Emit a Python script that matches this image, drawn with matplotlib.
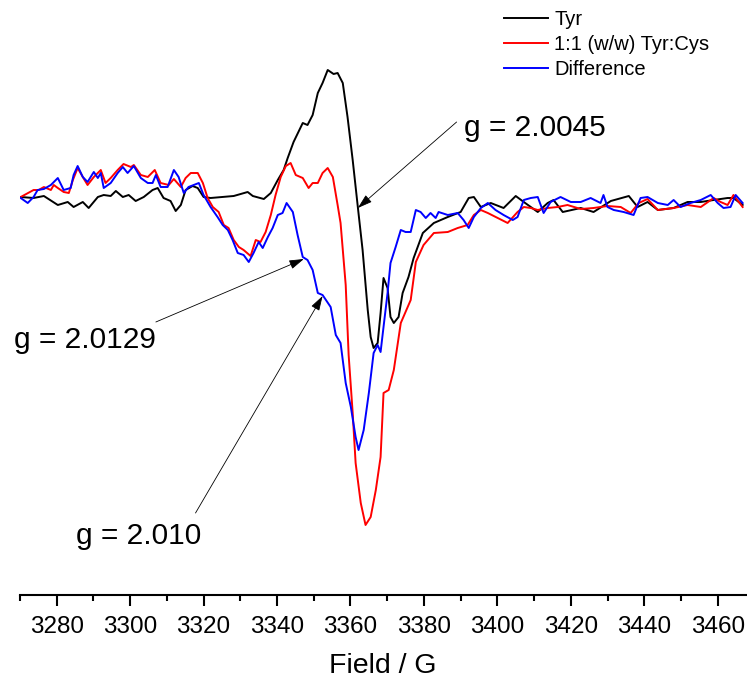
#!/usr/bin/env python3
"""EPR spectra of Tyr, 1:1 (w/w) Tyr:Cys and their difference."""
import matplotlib
matplotlib.use("Agg")
import matplotlib.pyplot as plt

plt.rcParams["font.family"] = ["Liberation Sans", "DejaVu Sans"]

# Tyr (field in G, intensity in arbitrary units)
tyr_field = [3270.2, 3273.7, 3276.5, 3280.3, 3283.0, 3284.6, 3287.1, 3288.7, 3291.2, 3292.8,
             3294.7, 3296.1, 3298.0, 3299.6, 3301.5, 3303.7, 3306.1, 3307.5, 3309.1, 3311.0,
             3312.4, 3313.8, 3315.1, 3317.0, 3318.4, 3320.0, 3321.9, 3328.2, 3332.0, 3333.4,
             3336.4, 3338.3, 3340.2, 3341.8, 3342.9, 3344.5, 3347.0, 3348.3, 3349.7, 3351.1,
             3352.4, 3353.8, 3354.6, 3355.4, 3356.5, 3357.9, 3359.2, 3360.6, 3362.0, 3363.3,
             3364.7, 3365.5, 3366.3, 3367.4, 3368.2, 3369.0, 3370.1, 3370.9, 3371.8, 3373.1,
             3374.2, 3375.8, 3377.2, 3379.7, 3382.7, 3386.5, 3390.0, 3392.2, 3393.6, 3395.5,
             3398.2, 3401.7, 3405.0, 3407.2, 3411.0, 3413.7, 3415.3, 3417.8, 3422.7, 3426.2,
             3430.9, 3435.8, 3438.2, 3440.9, 3443.7, 3448.0, 3451.8, 3455.4, 3458.9, 3462.7,
             3464.3, 3466.8]
tyr_int = [0, -1, 1, -8, -5, -10, -5, -11, 0, 2,
           1, 6, 0, 2, -4, 0, 7, 9, -1, -4,
           -14, -8, 7, 11, 9, 0, -1, 1, 5, 1,
           -2, 4, 17, 27, 39, 55, 74, 72, 82, 104,
           114, 127, 125, 123, 124, 114, 80, 37, -10, -53,
           -113, -140, -151, -146, -116, -81, -91, -120, -126, -120,
           -96, -80, -61, -36, -26, -20, -15, -1, 0, -10,
           -6, -11, 1, -5, -15, -6, -3, -15, -11, -15,
           -4, 1, -10, -5, -13, -11, -5, -5, -3, -1,
           -1, -8]

# 1:1 (w/w) Tyr:Cys
mix_field = [3270.2, 3273.7, 3275.1, 3276.5, 3278.4, 3279.2, 3280.3, 3281.9, 3283.3, 3284.4,
             3285.7, 3287.1, 3288.4, 3290.1, 3292.0, 3293.3, 3294.7, 3296.6, 3298.2, 3300.2,
             3301.0, 3302.9, 3304.8, 3306.7, 3308.3, 3310.5, 3311.9, 3313.8, 3315.1, 3316.5,
             3318.4, 3319.8, 3321.1, 3322.5, 3324.1, 3325.5, 3326.8, 3328.2, 3329.6, 3330.9,
             3332.8, 3334.2, 3335.5, 3336.9, 3338.3, 3339.6, 3341.0, 3342.4, 3343.7, 3345.1,
             3347.0, 3348.6, 3349.7, 3351.1, 3352.4, 3353.8, 3355.2, 3356.5, 3357.3, 3358.7,
             3359.5, 3360.6, 3361.4, 3362.8, 3364.1, 3365.5, 3366.9, 3368.2, 3369.0, 3370.4,
             3371.8, 3373.7, 3376.4, 3377.8, 3379.9, 3382.7, 3386.5, 3389.2, 3391.9, 3393.6,
             3395.5, 3397.4, 3400.1, 3402.8, 3405.5, 3407.2, 3409.1, 3411.0, 3413.7, 3416.4,
             3419.1, 3422.7, 3426.2, 3430.0, 3433.6, 3436.3, 3438.5, 3440.9, 3443.7, 3448.0,
             3451.8, 3455.4, 3458.9, 3460.8, 3462.7, 3464.3, 3466.8]
mix_int = [0, 7, 7, 10, 7, 12, 9, 5, 4, 17,
           29, 20, 12, 20, 27, 14, 19, 27, 33, 30,
           32, 22, 20, 27, 14, 12, 18, 10, 19, 24,
           24, 14, -1, -10, -15, -28, -31, -43, -50, -53,
           -59, -43, -45, -35, -18, 2, 20, 31, 34, 22,
           19, 9, 14, 14, 24, 29, 20, -8, -26, -88,
           -158, -216, -266, -306, -328, -320, -293, -260, -196, -193,
           -173, -126, -103, -65, -48, -36, -35, -31, -28, -18,
           -13, -16, -21, -26, -15, -10, -11, -13, -11, -10,
           -8, -12, -11, -9, -10, -16, -6, -2, -13, -11,
           -8, -10, -1, -5, -8, 2, -10]

# Difference
diff_field = [3270.2, 3272.1, 3273.7, 3274.8, 3276.5, 3278.4, 3280.3, 3281.9, 3283.8, 3284.6,
              3285.7, 3287.1, 3288.4, 3290.1, 3291.2, 3292.0, 3292.8, 3294.7, 3296.6, 3298.0,
              3299.3, 3301.0, 3302.9, 3304.8, 3306.1, 3307.0, 3308.3, 3310.2, 3311.9, 3313.2,
              3314.6, 3315.9, 3317.3, 3318.7, 3320.0, 3321.9, 3323.8, 3325.2, 3326.6, 3327.9,
              3329.3, 3330.9, 3332.3, 3333.6, 3335.0, 3336.1, 3337.5, 3338.8, 3340.2, 3341.5,
              3342.6, 3344.3, 3345.6, 3347.0, 3348.3, 3349.7, 3351.1, 3352.4, 3354.6, 3356.0,
              3357.3, 3358.7, 3360.1, 3361.4, 3362.2, 3363.6, 3365.0, 3366.3, 3367.4, 3368.2,
              3369.0, 3370.1, 3370.9, 3372.3, 3373.7, 3375.0, 3376.4, 3377.8, 3379.1, 3380.5,
              3381.8, 3383.2, 3384.0, 3386.5, 3389.2, 3390.8, 3392.2, 3393.6, 3395.5, 3397.4,
              3399.5, 3401.7, 3404.2, 3405.5, 3407.2, 3409.1, 3411.0, 3412.6, 3414.5, 3417.2,
              3420.0, 3422.7, 3425.4, 3428.1, 3428.9, 3430.0, 3431.7, 3434.4, 3437.1, 3439.0,
              3440.9, 3443.7, 3446.4, 3448.0, 3449.9, 3452.6, 3455.4, 3458.1, 3460.0, 3461.6,
              3463.5, 3464.9, 3466.8]
diff_int = [-1, -6, 0, 7, 8, 12, 19, 7, 9, 22,
            31, 20, 15, 25, 19, 24, 9, 14, 24, 30,
            24, 31, 19, 14, 14, 22, 10, 10, 27, 20,
            4, 10, 12, 14, 2, -10, -20, -28, -33, -43,
            -56, -58, -65, -56, -45, -51, -40, -31, -18, -16,
            -6, -15, -38, -60, -63, -73, -96, -98, -110, -138,
            -146, -186, -210, -240, -253, -233, -196, -156, -148, -155,
            -130, -96, -66, -50, -33, -35, -35, -13, -15, -21,
            -16, -21, -15, -18, -16, -23, -31, -20, -11, -6,
            -13, -18, -23, -20, -3, -1, 0, -16, -5, 0,
            -5, -5, -1, -6, 2, -10, -13, -15, -18, -1,
            0, -6, -8, -3, -10, -6, -3, 2, -6, -11,
            -10, 2, -6]

series_labels = ["Tyr", "1:1 (w/w) Tyr:Cys", "Difference"]

# g-value annotations: label, arrow tip (field, int), arrow tail, text anchor
g_labels = ["g = 2.0045", "g = 2.0129", "g = 2.010"]
g_tips = [(3362.0, -11), (3347.3, -62), (3352.4, -99)]
g_tails = [(3388.9, 75), (3307.0, -125), (3317.8, -316)]
g_text_pos = [(3390.8, 61), (3268.3, -151), (3285.2, -347)]


def main() -> int:
    fig = plt.figure(figsize=(7.47, 6.83), dpi=100)
    ax = fig.add_axes([20 / 747, 88 / 683, 734.4 / 747, 595 / 683])

    ax.plot(tyr_field, tyr_int, color="black", lw=1.4, label=series_labels[0])
    ax.plot(mix_field, mix_int, color="#ff0000", lw=1.4, label=series_labels[1])
    ax.plot(diff_field, diff_int, color="#0000ff", lw=1.4, label=series_labels[2])

    ax.set_xlim(3270, 3470)
    ax.set_ylim(-398, 197)
    ax.set_xticks(range(3280, 3461, 20))
    ax.set_xticks(range(3270, 3471, 10), minor=True)
    ax.tick_params(axis="x", which="major", direction="out", length=8, width=1.5,
                   labelsize=17.5, pad=7)
    ax.tick_params(axis="x", which="minor", direction="out", length=4.3, width=1.5)
    ax.set_yticks([])
    for side in ("left", "right", "top"):
        ax.spines[side].set_visible(False)
    ax.spines["bottom"].set_linewidth(1.5)
    ax.set_xlabel("Field / G", fontsize=20.5)
    ax.xaxis.set_label_coords(0.494, -0.097)

    for lab, tip, tail, pos in zip(g_labels, g_tips, g_tails, g_text_pos):
        ax.annotate("", xy=tip, xytext=tail,
                    arrowprops=dict(arrowstyle="-|>,head_length=0.9,head_width=0.28",
                                    color="black", lw=0.6, mutation_scale=10,
                                    shrinkA=0, shrinkB=0))
        ax.text(pos[0], pos[1], lab, fontsize=21.5, ha="left", va="baseline")

    fig.legend(loc="upper left", bbox_to_anchor=(504 / 747, 1 - 10 / 683),
               frameon=False, fontsize=14.5, handlelength=2.2, handletextpad=0.3,
               labelspacing=0.3, borderpad=0, borderaxespad=0)

    fig.savefig("out.png", dpi=100)
    return 0


if __name__ == "__main__":
    raise SystemExit(main())
